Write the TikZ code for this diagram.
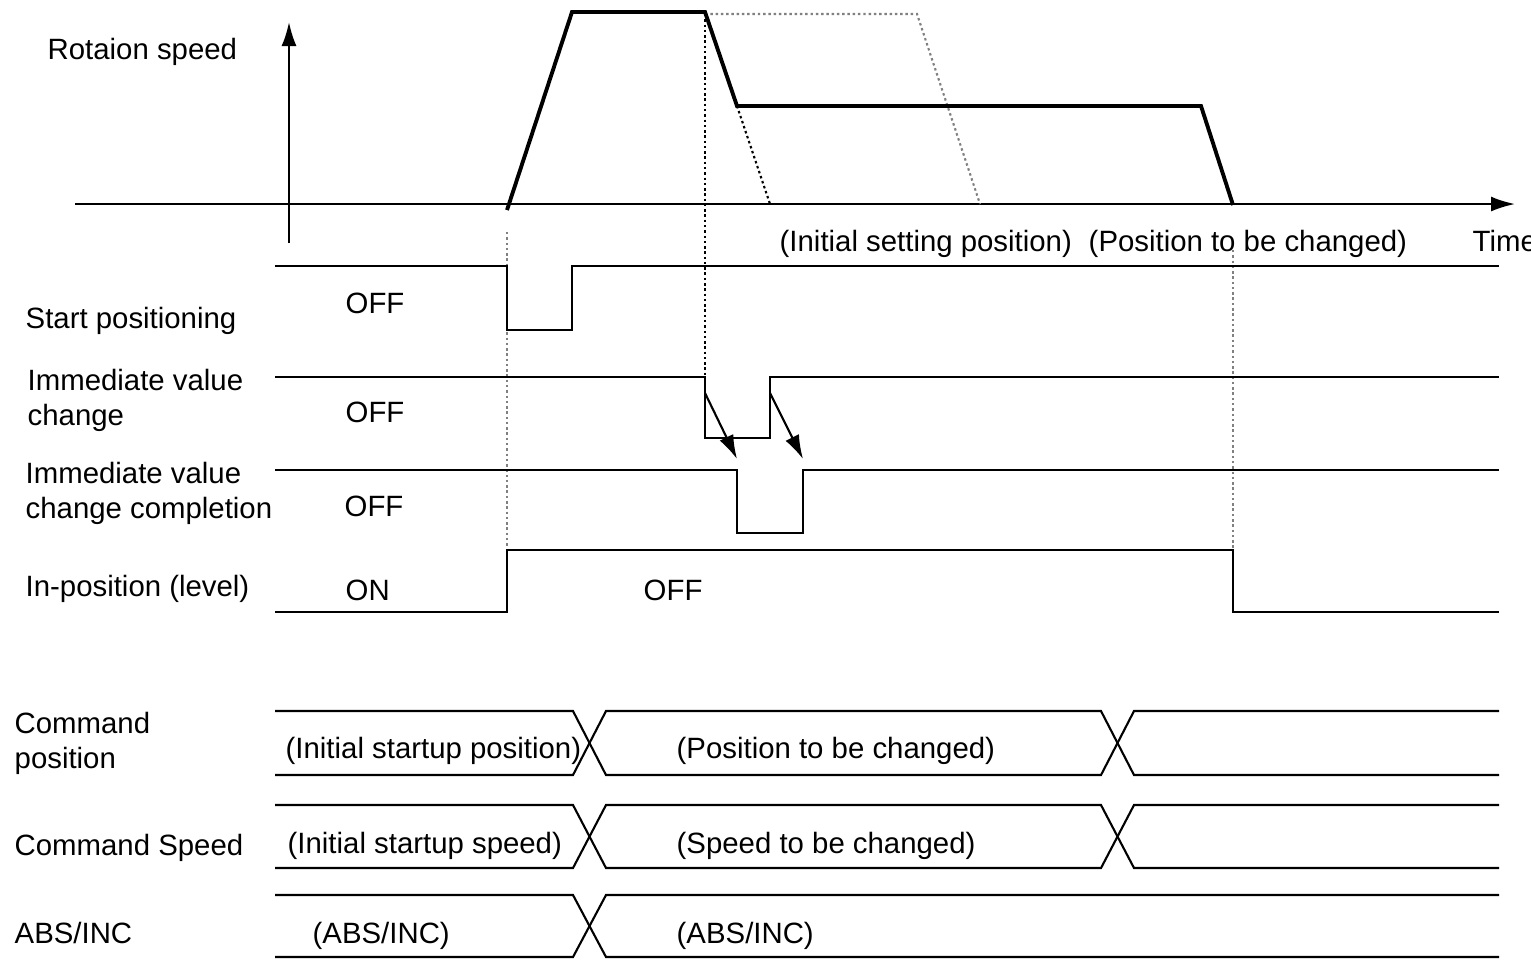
\documentclass[tikz,border=0pt]{standalone}
\usepackage{fontspec}
\setmainfont{Liberation Sans}
\usetikzlibrary{arrows.meta}
\tikzset{
  lbl/.style={anchor=base west,inner sep=0pt,font=\fontsize{8.35}{9.7}\selectfont},
  sig/.style={line width=0.6pt,line join=miter},
  prof/.style={line width=1.1pt,line join=miter},
  guide/.style={dash pattern=on 0.7pt off 0.8pt,line width=0.6pt},
  ghost/.style={dash pattern=on 0.7pt off 0.8pt,line width=0.6pt,gray},
  tip/.style={-{Latex[length=2.4mm,width=1.5mm]}},
}
\begin{document}
\begin{tikzpicture}[x=0.01cm,y=-0.01cm]
    \useasboundingbox (0,0) rectangle (1531,959);

    \draw[sig,tip] (75,204) -- (1515,204);
    \draw[sig,tip] (289,243) -- (289,22);
    \node[lbl] (rot) at (47,59) {Rotaion speed};
    \node[lbl] (time) at (1472,251) {Time};
    \node[lbl] (initset) at (779,251) {(Initial setting position)};
    \node[lbl] (tochange) at (1088,251) {(Position to be changed)};

    \draw[ghost] (705,14) -- (917,14) -- (980,204);
    \draw[guide] (737,106) -- (770,204);
    \draw[prof] (507,210) -- (572,12) -- (705,12) -- (737,106) -- (1201,106) -- (1233,205);

    \draw[guide] (705,14) -- (705,377);
    \draw[ghost] (507,232) -- (507,612);
    \draw[ghost] (1233,250) -- (1233,612);

    \node[lbl] (startlbl) at (25,328) {Start positioning};
    \node[lbl] (startoff) at (345,313) {OFF};
    \draw[sig] (275,266) -- (507,266) -- (507,330) -- (572,330) -- (572,266) -- (1499,266);

    \node[lbl,align=left] (ivclbl) at (27,425) {Immediate value\\change};
    \node[lbl] (ivcoff) at (345,422) {OFF};
    \draw[sig] (275,377) -- (705,377) -- (705,438) -- (770,438) -- (770,377) -- (1499,377);

    \node[lbl,align=left] (ivcclbl) at (25,518) {Immediate value\\change completion};
    \node[lbl] (ivccoff) at (344,516) {OFF};
    \draw[sig] (275,470) -- (737,470) -- (737,533) -- (803,533) -- (803,470) -- (1499,470);

    \coordinate (ivcfall) at (705,393);
    \coordinate (ivcrise) at (770,393);
    \coordinate (donefall) at (737,459);
    \coordinate (donerise) at (803,459);
    \draw[sig,tip] (ivcfall) -- (donefall);
    \draw[sig,tip] (ivcrise) -- (donerise);

    \node[lbl] (inposlbl) at (25,596) {In-position (level)};
    \node[lbl] (inposon) at (345,600) {ON};
    \node[lbl] (inposoff) at (643,600) {OFF};
    \draw[sig] (275,612) -- (507,612) -- (507,550) -- (1233,550) -- (1233,612) -- (1499,612);

    \node[lbl,align=left] (cmdposlbl) at (14,768) {Command\\position};
    \node[lbl] (cmdposold) at (285,758) {(Initial startup position)};
    \node[lbl] (cmdposnew) at (676,758) {(Position to be changed)};
    \draw[sig] (275,711) -- (573,711) -- (606,775) -- (1101,775) -- (1134,711) -- (1499,711);
    \draw[sig] (275,775) -- (573,775) -- (606,711) -- (1101,711) -- (1134,775) -- (1499,775);

    \node[lbl] (cmdspdlbl) at (14,855) {Command Speed};
    \node[lbl] (cmdspdold) at (287,853) {(Initial startup speed)};
    \node[lbl] (cmdspdnew) at (676,853) {(Speed to be changed)};
    \draw[sig] (275,805) -- (573,805) -- (606,868) -- (1101,868) -- (1134,805) -- (1499,805);
    \draw[sig] (275,868) -- (573,868) -- (606,805) -- (1101,805) -- (1134,868) -- (1499,868);

    \node[lbl] (abslbl) at (14,943) {ABS/INC};
    \node[lbl] (absold) at (312,943) {(ABS/INC)};
    \node[lbl] (absnew) at (676,943) {(ABS/INC)};
    \draw[sig] (275,895) -- (573,895) -- (606,957) -- (1499,957);
    \draw[sig] (275,957) -- (573,957) -- (606,895) -- (1499,895);
\end{tikzpicture}
\end{document}
